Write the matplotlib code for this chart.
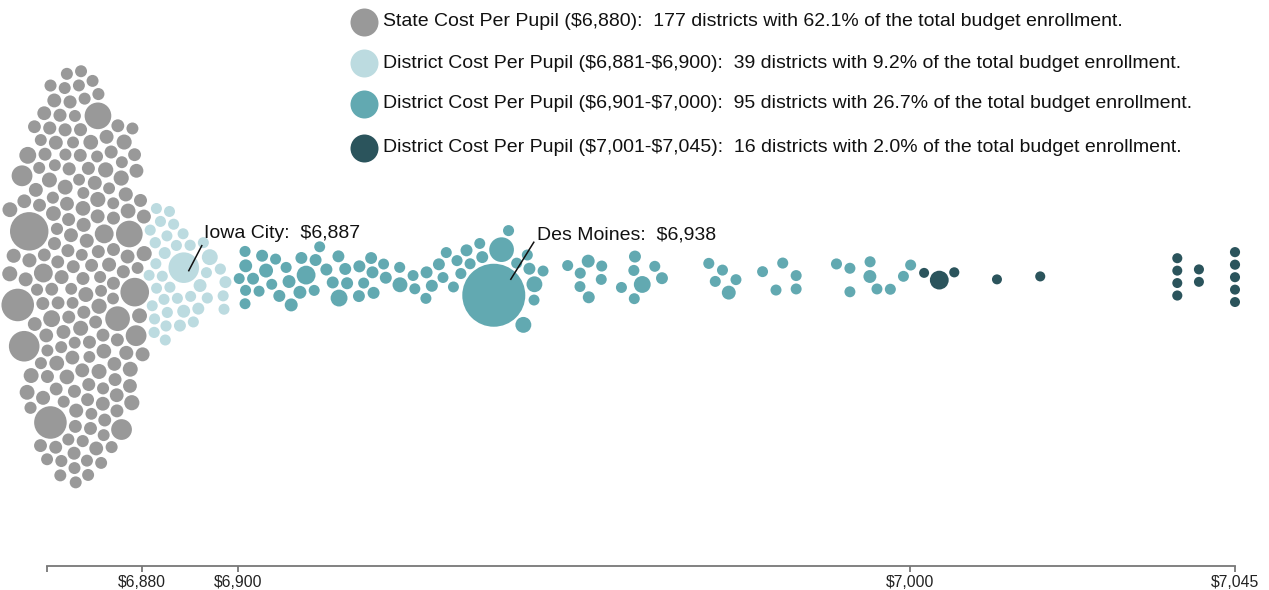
import numpy as np
import matplotlib.pyplot as plt

plt.rcParams['font.family'] = ['Liberation Sans', 'DejaVu Sans']

# ---------------- data ----------------
# state cost group: every district sits at the state cost per pupil
state_cost = 6880
state_enroll = [4810, 6700, 10130, 3230, 1450, 1460, 1010, 1020, 1970, 5720, 3990, 1960, 1980, 3980, 6710,
                640, 660, 655, 700, 620, 680, 650, 710, 630, 670, 645, 690, 660, 625, 700, 650, 635, 675,
                665, 690, 615, 705, 640, 680, 655,
                500, 510, 490, 520, 505, 480, 530, 495, 515, 500, 485, 525, 510, 490, 505, 520, 495, 500,
                515, 480, 530, 505, 490, 510, 500, 520, 485, 495, 515, 505, 500, 490, 525, 510, 495,
                370, 380, 365, 390, 375, 360, 385, 370, 395, 375, 380, 365, 370, 385, 375, 360, 390, 380,
                370, 375, 365, 385, 380, 370, 395, 375, 360, 380, 370, 385, 375, 365, 390, 370, 380, 375,
                360, 385, 370, 375, 390, 380, 365, 375, 370, 385, 380, 360, 375, 370,
                260, 270, 255, 265, 275, 260, 250, 270, 265, 280, 255, 260, 270, 265, 250, 275, 260, 265,
                270, 255, 280, 265, 260, 270, 255, 265, 275, 250, 260, 270, 265, 255, 280, 260, 265, 270,
                250, 265, 275, 260, 255, 270, 265, 260, 280, 255, 265, 270, 260, 250, 275, 265]

light_cost = [6881, 6881, 6881, 6883, 6887, 6888, 6881, 6885, 6888, 6890, 6894, 6897, 6882,
              6881, 6888, 6885, 6883, 6890, 6893, 6897, 6881, 6882, 6884, 6887, 6889, 6892,
              6896, 6897, 6884, 6892, 6888, 6882, 6884, 6881, 6881, 6882, 6883, 6881, 6882]
light_enroll = [172, 172, 200, 180, 5720, 190, 180, 265, 175, 265, 830, 265, 175,
                175, 375, 180, 265, 375, 175, 180, 175, 180, 185, 175, 180, 175,
                190, 175, 180, 185, 175, 180, 175, 180, 170, 185, 175, 190, 175]

teal_cost = [6901, 6901, 6901, 6901, 6902, 6901, 6903, 6904, 6904, 6905, 6905, 6906, 6907, 6910,
             6908, 6910, 6909, 6908, 6911, 6911, 6912, 6913, 6914, 6915, 6915, 6916, 6916, 6918,
             6918, 6919, 6920, 6920, 6920, 6921, 6922, 6924, 6924, 6926, 6926, 6928, 6928, 6930,
             6930, 6929, 6931, 6932, 6933, 6934, 6935, 6936, 6938, 6940, 6940, 6942, 6943, 6945,
             6944, 6943, 6944, 6934, 6939, 6938, 6949, 6951, 6951, 6952, 6952, 6954, 6954, 6957,
             6959, 6960, 6963, 6962, 6959, 6959, 6971, 6974, 6970, 6973, 6972, 6978, 6980, 6981,
             6983, 6983, 6989, 6991, 6991, 6994, 6995, 6994, 6997, 6999, 7000]
teal_enroll = [170, 175, 180, 170, 260, 370, 175, 265, 510, 170, 175, 270, 180, 1450,
               380, 260, 375, 370, 265, 175, 170, 270, 265, 260, 1020, 270, 265, 260,
               270, 175, 265, 260, 270, 170, 265, 660, 180, 175, 170, 265, 175, 260,
               170, 270, 175, 170, 180, 265, 175, 170, 260, 175, 180, 830, 265, 170,
               820, 175, 170, 180, 3230, 32000, 175, 170, 180, 375, 265, 175, 170, 175,
               265, 1010, 260, 175, 170, 180, 175, 170, 180, 505, 175, 170, 175, 180,
               170, 175, 180, 170, 175, 375, 170, 180, 175, 170, 175]

dark_cost = [7002, 7004, 7006, 7012, 7018, 7037, 7037, 7037, 7037, 7040, 7040,
             7045, 7045, 7045, 7045, 7045]
dark_enroll = [100, 1450, 110, 100, 105, 100, 110, 105, 100, 100, 105,
               100, 110, 105, 100, 110]

group_colors = ['#999999', '#bcdbe0', '#62a9b1', '#2b545c']
legend_labels = [
    'State Cost Per Pupil ($6,880):  177 districts with 62.1% of the total budget enrollment.',
    'District Cost Per Pupil ($6,881-$6,900):  39 districts with 9.2% of the total budget enrollment.',
    'District Cost Per Pupil ($6,901-$7,000):  95 districts with 26.7% of the total budget enrollment.',
    'District Cost Per Pupil ($7,001-$7,045):  16 districts with 2.0% of the total budget enrollment.',
]
tick_values = [6880, 6900, 7000, 7045]
tick_labels = ['$6,880', '$6,900', '$7,000', '$7,045']
callouts = [('Iowa City', 6887), ('Des Moines', 6938)]

# ---------------- scales ----------------
W, H = 1269, 590
anchor_cost = np.array([6840, 6880, 6900, 7000, 7045, 7080])
anchor_px = np.array([-52.0, 141.6, 238.4, 910.4, 1235.0, 1487.7])


def fwd(c):
    return np.interp(c, anchor_cost, anchor_px)


def inv(p):
    return np.interp(p, anchor_px, anchor_cost)


def radius(e):
    e = np.asarray(e, dtype=float)
    return 5.0 + 26.5 * (np.sqrt(e) - 10) / (np.sqrt(32000) - 10)


costs = np.concatenate([np.full(len(state_enroll), state_cost), light_cost, teal_cost, dark_cost]).astype(float)
enroll = np.concatenate([state_enroll, light_enroll, teal_enroll, dark_enroll]).astype(float)
group = np.concatenate([np.full(len(a), g) for g, a in enumerate([state_enroll, light_cost, teal_cost, dark_cost])])

# ---------------- beeswarm layout (simple force simulation) ----------------
cy = 277.0
rad = radius(enroll)
coll = rad + 1.2
tx = fwd(costs)
n = len(tx)
is_state = group == 0

# the state blob is packed to the left of its tick: shift its centre by the
# half-width of an ellipse holding all of its circles
sx, sy = 0.3, 0.02
blob_area = np.sum(np.pi * coll[is_state] ** 2) / 0.84
half_w = np.sqrt(blob_area * np.sqrt(sy / sx) / np.pi)
tx[is_state] = fwd(state_cost) - half_w

k = np.concatenate([np.arange((group == g).sum()) for g in range(4)])
sp_r = 6 * np.sqrt(0.5 + k)
sp_a = k * np.pi * (3 - np.sqrt(5))
x = tx + 0.4 * sp_r * np.cos(sp_a)
y = cy + sp_r * np.sin(sp_a)
vx = np.zeros(n)
vy = np.zeros(n)

R2 = rad ** 2
Wt = R2[None, :] / (R2[:, None] + R2[None, :])
RR = coll[:, None] + coll[None, :]
eye = np.eye(n, dtype=bool)


def collide(px, py, strength):
    dx = px[:, None] - px[None, :]
    dy = py[:, None] - py[None, :]
    d = np.hypot(dx, dy)
    d[eye] = np.inf
    m = d < RR
    l = np.where(m, (RR - d) / np.maximum(d, 1e-6) * strength, 0.0)
    return (dx * l * Wt).sum(1), (dy * l * Wt).sum(1)


alpha = 1.0
decay = 1 - 0.001 ** (1 / 300)
for step in range(300):
    alpha -= alpha * decay
    vx += (tx - x) * sx * alpha
    vy += (cy - y) * sy * alpha
    for _ in range(2):
        ddx, ddy = collide(x + vx, y + vy, 0.7)
        vx += ddx
        vy += ddy
    vx *= 0.6
    vy *= 0.6
    x += vx
    y += vy

for _ in range(60):
    ddx, ddy = collide(x, y, 0.5)
    x += ddx
    y += ddy

# ---------------- drawing ----------------
fig = plt.figure(figsize=(W / 100, H / 100), dpi=100)
ax = fig.add_axes([0, 0, 1, 1])
ax.set_xscale('function', functions=(fwd, inv))
ax.set_xlim(inv(0), inv(W))
ax.set_ylim(H, 0)

pt = 72 / 100
ax.scatter(inv(x), y, s=(2 * rad * pt) ** 2, c=[group_colors[g] for g in group],
           linewidths=0, zorder=3)

# callouts
offsets = {'Iowa City': ((5, 3), (18, -22), (20, -34)),
           'Des Moines': ((17, -16), (40, -53), (43, -60))}
for name, c in callouts:
    idx = np.where(costs == c, enroll, -1).argmax()
    (s0, s1), (e0, e1), (t0, t1) = offsets[name]
    ax.plot(inv([x[idx] + s0, x[idx] + e0]), [y[idx] + s1, y[idx] + e1], color='#111111', lw=1.1, zorder=4)
    ax.text(inv(x[idx] + t0), y[idx] + t1, f'{name}:  ${c:,}', fontsize=14, color='#111111',
            va='center', ha='left', zorder=5, parse_math=False)

# legend
leg_y = [22, 63, 104, 148]
for i, (lab, col) in enumerate(zip(legend_labels, group_colors)):
    ax.scatter([364 / W], [1 - leg_y[i] / H], s=(28 * pt) ** 2, color=col, transform=ax.transAxes,
               clip_on=False, linewidths=0)
    ax.text(383 / W, 1 - leg_y[i] / H, lab, transform=ax.transAxes, fontsize=14, color='#111111',
            va='center', ha='left', parse_math=False)

# axis
for s in ['top', 'left', 'right']:
    ax.spines[s].set_visible(False)
ax.spines['bottom'].set_position(('data', 566))
ax.spines['bottom'].set_bounds(inv(47.3), 7045)
ax.spines['bottom'].set_color('#777777')
ax.spines['bottom'].set_linewidth(1.3)
ax.set_xticks([inv(47.3)] + tick_values)
ax.set_xticklabels([''] + tick_labels)
ax.tick_params(axis='x', direction='out', length=6 * pt, width=1.3, color='#777777',
               labelsize=11.3, labelcolor='#222222', pad=2)
for lab in ax.get_xticklabels():
    lab.set_parse_math(False)
ax.set_yticks([])
ax.minorticks_off()

fig.savefig('out.png', dpi=100)
